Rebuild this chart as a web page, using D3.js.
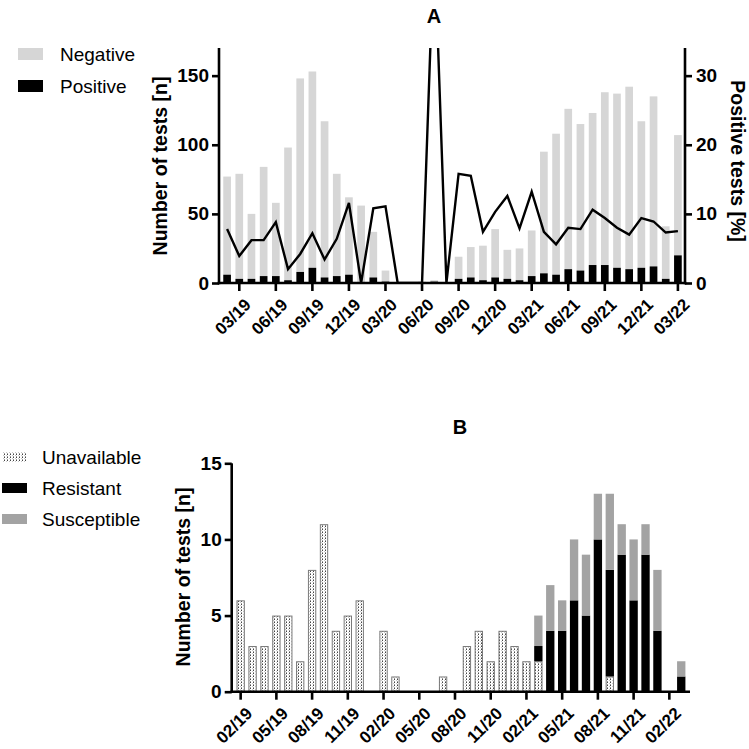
<!DOCTYPE html>
<html>
<head>
<meta charset="utf-8">
<script src="https://cdn.jsdelivr.net/npm/d3@7"></script>
<style>
html,body{margin:0;padding:0;background:#fff;}
svg{display:block;font-family:"Liberation Sans",Arial,sans-serif;}
</style>
</head>
<body>
<svg id="chart" width="749" height="749"></svg>
<script>
// ---------- DATA ----------
const months = ["02/19","03/19","04/19","05/19","06/19","07/19","08/19","09/19","10/19","11/19","12/19",
  "01/20","02/20","03/20","04/20","05/20","06/20","07/20","08/20","09/20","10/20","11/20","12/20",
  "01/21","02/21","03/21","04/21","05/21","06/21","07/21","08/21","09/21","10/21","11/21","12/21",
  "01/22","02/22","03/22"];

// Panel A: tests per month
const totalTests = [77,79,50,84,58,98,148,153,117,79,62,
  56,37,9,0,0,1,2,0,19,26,27,39,
  24,25,38,95,108,126,115,123,138,137,142,117,
  135,41,107];
const positiveTests = [6,3,3,5,5,2,8,11,4,5,6,
  0,4,1,0,0,0,1,0,3,4,2,4,
  3,2,5,7,6,10,9,13,13,11,10,11,
  12,3,20];
const positivePct = [7.8,3.9,6.2,6.2,8.8,2.0,4.2,7.2,3.4,6.4,11.6,
  0,10.8,11.1,0,0,0,50,0,15.8,15.5,7.4,10.3,
  12.6,7.9,13.2,7.4,5.6,8.0,7.8,10.6,9.4,8.0,7.0,9.4,
  8.9,7.3,7.5];

// Panel B: resistance testing
const unavailable = [6,3,3,5,5,2,8,11,4,5,6,
  0,4,1,0,0,0,1,0,3,4,2,4,
  3,2,2,0,0,0,0,0,1,0,0,0,
  0,0,0];
const resistant = [0,0,0,0,0,0,0,0,0,0,0,
  0,0,0,0,0,0,0,0,0,0,0,0,
  0,0,1,4,4,6,5,10,7,9,6,9,
  4,0,1];
const susceptible = [0,0,0,0,0,0,0,0,0,0,0,
  0,0,0,0,0,0,0,0,0,0,0,0,
  0,0,2,3,2,4,4,3,5,2,4,2,
  4,0,1];

const ticksLeftA = [0,50,100,150];
const ticksRightA = [0,10,20,30];
const ticksB = [0,5,10,15];
const xTicksA = months.filter((d,i)=>i%3===1);
const xTicksB = months.filter((d,i)=>i%3===0);

// ---------- DRAW ----------
const svg = d3.select("#chart");
const FONT = "\"Liberation Sans\",Arial,sans-serif";
const AXW = 2.6;
const tickFont = 19;
const xTickFont = 17;

const defs = svg.append("defs");
const pat = defs.append("pattern").attr("id","dots").attr("patternUnits","userSpaceOnUse")
  .attr("width",3).attr("height",3);
pat.append("rect").attr("width",3).attr("height",3).attr("fill","#ffffff");
[[1,1,"#444"],[1,0,"#9a9a9a"],[0,2,"#c8c8c8"]].forEach(p=>{
  pat.append("rect").attr("x",p[0]).attr("y",p[1]).attr("width",1).attr("height",1).attr("fill",p[2]);
});

function styleAxis(g){
  g.selectAll(".domain").remove();
  g.selectAll(".tick line").attr("stroke","#000").attr("stroke-width",AXW);
  g.selectAll(".tick text").attr("fill","#000").attr("font-size",tickFont).attr("font-weight","bold").attr("font-family",FONT);
}

// ===== Panel A =====
const A = {left:219, right:685, top:48, bottom:283};
const xA = d3.scaleBand().domain(months).range([221,684]).paddingInner(0.37).paddingOuter(0.185);
const yA = d3.scaleLinear().domain([0,170]).range([A.bottom,A.top]);
const yR = d3.scaleLinear().domain([0,34]).range([A.bottom,A.top]);

const gA = svg.append("g");
gA.selectAll("rect.neg").data(months).join("rect").attr("class","neg")
  .attr("x",d=>xA(d)).attr("width",xA.bandwidth())
  .attr("y",(d,i)=>yA(totalTests[i])).attr("height",(d,i)=>yA(positiveTests[i])-yA(totalTests[i]))
  .attr("fill","#d6d6d6");
gA.selectAll("rect.pos").data(months).join("rect").attr("class","pos")
  .attr("x",d=>xA(d)).attr("width",xA.bandwidth())
  .attr("y",(d,i)=>yA(positiveTests[i])).attr("height",(d,i)=>yA(0)-yA(positiveTests[i]))
  .attr("fill","#000");

defs.append("clipPath").attr("id","clipA").append("rect")
  .attr("x",A.left).attr("y",A.top).attr("width",A.right-A.left).attr("height",A.bottom-A.top);
const line = d3.line().x((d,i)=>xA(months[i])+xA.bandwidth()/2).y(d=>yR(d));
gA.append("path").datum(positivePct).attr("d",line).attr("fill","none")
  .attr("stroke","#000").attr("stroke-width",2.4).attr("stroke-linejoin","miter")
  .attr("clip-path","url(#clipA)");

// axes A
const axL = gA.append("g").attr("transform",`translate(${A.left},0)`)
  .call(d3.axisLeft(yA).tickValues(ticksLeftA).tickSize(7).tickSizeOuter(0).tickPadding(3));
styleAxis(axL);
const axR = gA.append("g").attr("transform",`translate(${A.right},0)`)
  .call(d3.axisRight(yR).tickValues(ticksRightA).tickSize(7).tickSizeOuter(0).tickPadding(4));
styleAxis(axR);
const axB = gA.append("g").attr("transform",`translate(0,${A.bottom})`)
  .call(d3.axisBottom(xA).tickValues(xTicksA).tickSize(8).tickSizeOuter(0));
styleAxis(axB);
axB.selectAll(".tick text").attr("text-anchor","end").attr("dy",0).attr("dx",0)
  .attr("font-size",xTickFont)
  .attr("transform","translate(5,15) rotate(-45)");
gA.append("line").attr("x1",A.left).attr("x2",A.left).attr("y1",A.top).attr("y2",A.bottom+AXW/2)
  .attr("stroke","#000").attr("stroke-width",AXW);
gA.append("line").attr("x1",A.right).attr("x2",A.right).attr("y1",A.top).attr("y2",A.bottom+AXW/2)
  .attr("stroke","#000").attr("stroke-width",AXW);
gA.append("line").attr("x1",A.left-AXW/2).attr("x2",A.right+AXW/2).attr("y1",A.bottom).attr("y2",A.bottom)
  .attr("stroke","#000").attr("stroke-width",AXW);

gA.append("text").attr("x",434).attr("y",23).attr("text-anchor","middle")
  .attr("font-size",20).attr("font-weight","bold").text("A");
gA.append("text").attr("transform","translate(167,166) rotate(-90)").attr("text-anchor","middle")
  .attr("font-size",19.5).attr("font-weight","bold").text("Number of tests [n]");
gA.append("text").attr("transform","translate(731,161) rotate(90)").attr("text-anchor","middle")
  .attr("font-size",19.5).attr("font-weight","bold").text("Positive tests [%]");

// legend A
const legA = [{k:"Negative",c:"#d6d6d6"},{k:"Positive",c:"#000"}];
legA.forEach((d,i)=>{
  gA.append("rect").attr("x",18).attr("y",48+i*32).attr("width",25).attr("height",12).attr("fill",d.c);
  gA.append("text").attr("x",60).attr("y",61+i*32).attr("font-size",19).text(d.k);
});

// ===== Panel B =====
const B = {left:231.7, right:690, top:463.3, bottom:691.7};
const xB = d3.scaleBand().domain(months).range([234.7,687.2]).paddingInner(0.3).paddingOuter(0.15);
const yB = d3.scaleLinear().domain([0,15]).range([B.bottom,B.top]);
const rowsB = months.map((m,i)=>({month:m,Unavailable:unavailable[i],Resistant:resistant[i],Susceptible:susceptible[i]}));
const keysB = ["Unavailable","Resistant","Susceptible"];
const fillB = {Unavailable:"url(#dots)",Resistant:"#000",Susceptible:"#a3a3a3"};
const stackB = d3.stack().keys(keysB)(rowsB);
const gB = svg.append("g");
stackB.forEach(layer=>{
  const u = layer.key==="Unavailable";
  gB.selectAll(null).data(layer.filter(d=>d[1]-d[0]>0)).join("rect")
    .attr("x",d=>xB(d.data.month)+(u?0.5:0))
    .attr("width",xB.bandwidth()-(u?1:0))
    .attr("y",d=>yB(d[1])+(u?0.5:0))
    .attr("height",d=>yB(d[0])-yB(d[1])-(u?1:0))
    .attr("fill",fillB[layer.key])
    .attr("stroke",u?"#7a7a7a":"none")
    .attr("stroke-width",1);
});
const axLB = gB.append("g").attr("transform",`translate(${B.left},0)`)
  .call(d3.axisLeft(yB).tickValues(ticksB).tickSize(7).tickSizeOuter(0).tickPadding(3));
styleAxis(axLB);
const axBB = gB.append("g").attr("transform",`translate(0,${B.bottom})`)
  .call(d3.axisBottom(xB).tickValues(xTicksB).tickSize(8).tickSizeOuter(0));
styleAxis(axBB);
axBB.selectAll(".tick text").attr("text-anchor","end").attr("dy",0).attr("dx",0)
  .attr("font-size",xTickFont)
  .attr("transform","translate(5,15) rotate(-45)");
gB.append("line").attr("x1",B.left).attr("x2",B.left).attr("y1",B.top).attr("y2",B.bottom+AXW/2)
  .attr("stroke","#000").attr("stroke-width",AXW);
gB.append("line").attr("x1",B.left-AXW/2).attr("x2",B.right).attr("y1",B.bottom).attr("y2",B.bottom)
  .attr("stroke","#000").attr("stroke-width",AXW);

gB.append("text").attr("x",460).attr("y",434).attr("text-anchor","middle")
  .attr("font-size",20).attr("font-weight","bold").text("B");
gB.append("text").attr("transform","translate(190,577) rotate(-90)").attr("text-anchor","middle")
  .attr("font-size",19.5).attr("font-weight","bold").text("Number of tests [n]");

keysB.forEach((k,i)=>{
  gB.append("rect").attr("x",2).attr("y",452+i*31).attr("width",25).attr("height",10)
    .attr("fill",fillB[k]);
  gB.append("text").attr("x",42).attr("y",464+i*31).attr("font-size",19).text(k);
});
</script>
</body>
</html>
